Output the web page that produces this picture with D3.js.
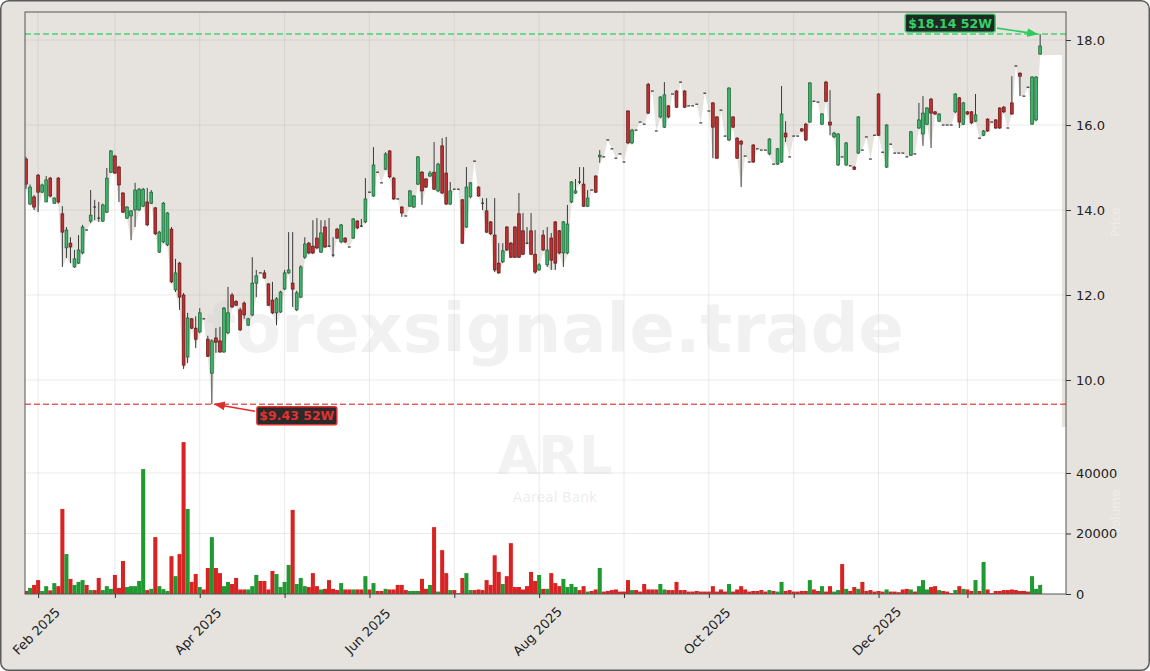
<!DOCTYPE html>
<html><head><meta charset="utf-8">
<script src="https://cdn.jsdelivr.net/npm/d3@7"></script>
<style>
html,body{margin:0;padding:0;background:#fff;}
svg{display:block;font-family:"DejaVu Sans",sans-serif;}
</style></head><body>
<svg id="chart" width="1150" height="671"></svg>
<script>
// ---------- DATA ----------
const ohlc = [ // [open, high, low, close] per trading day
[15.20,15.25,14.50,14.61],[14.14,14.60,14.12,14.54],[14.31,14.35,14.00,14.07],[14.82,14.85,13.95,14.42],[14.42,14.62,14.40,14.59],
[14.19,14.80,14.19,14.71],[14.75,14.78,14.30,14.33],[14.16,14.30,14.14,14.28],[14.75,14.78,14.15,14.19],[13.91,14.09,12.66,13.48],
[13.11,13.60,12.87,13.53],[13.22,13.36,12.75,13.13],[12.66,13.06,12.64,12.85],[12.75,13.41,12.73,13.06],[12.99,13.65,12.96,13.60],
[13.53,13.53,13.53,13.53],[13.74,14.47,13.69,13.88],[14.07,14.24,13.76,14.07],[13.81,14.19,13.72,13.81],[13.74,14.15,13.72,14.12],
[13.95,14.99,13.93,14.75],[14.89,15.41,14.87,15.39],[15.27,15.30,14.85,14.87],[15.01,15.04,14.19,14.59],[14.40,14.42,13.93,13.95],
[13.81,14.09,13.79,14.07],[13.86,14.00,13.29,13.98],[14.00,14.64,13.60,14.47],[14.00,14.52,13.98,14.49],[14.09,14.52,14.07,14.49],
[14.19,14.52,13.62,13.65],[14.16,14.47,14.14,14.42],[14.05,14.07,13.41,13.44],[13.01,13.51,12.99,13.48],[13.25,14.19,13.22,14.16],
[13.18,13.95,13.15,13.93],[13.55,13.60,12.28,12.31],[12.12,12.85,12.07,12.52],[12.75,12.78,11.65,11.95],[12.00,12.05,10.26,10.35],
[10.54,11.58,10.40,11.46],[11.44,11.46,11.20,11.22],[11.22,11.50,10.75,10.96],[11.13,11.69,11.10,11.58],[11.44,11.44,11.44,11.44],
[10.96,11.04,10.54,10.56],[10.16,10.96,9.43,10.92],[10.99,11.22,10.64,10.89],[10.92,11.25,10.64,10.66],[10.66,11.72,10.64,11.69],
[11.11,12.19,11.08,11.58],[12.00,12.05,11.69,11.72],[11.85,11.88,11.74,11.76],[11.65,11.70,11.15,11.18],[11.81,11.85,11.44,11.53],
[11.29,11.46,11.27,11.44],[11.53,12.89,11.50,12.28],[12.28,12.59,11.95,12.45],[12.52,12.52,12.52,12.52],[12.52,12.59,12.38,12.40],
[12.26,12.28,11.74,11.76],[11.88,12.31,11.55,11.58],[11.58,11.95,11.29,11.91],[11.60,12.10,11.58,12.07],[12.14,12.59,12.12,12.52],
[12.52,13.48,12.50,12.59],[12.28,13.48,11.72,12.14],[11.65,12.10,11.62,12.05],
[11.95,12.70,11.93,12.66],[12.89,13.36,12.85,13.20],[13.22,13.25,12.96,12.99],[13.15,13.76,12.96,12.99],[13.34,13.81,13.08,13.11],
[13.01,13.76,12.99,13.46],[13.60,13.76,13.11,13.13],[13.15,13.81,13.13,13.15],[12.94,13.36,12.89,12.94],[13.55,13.58,13.32,13.34],
[13.25,13.67,13.22,13.65],[13.34,13.36,13.22,13.25],[13.13,13.13,13.13,13.13],[13.34,13.81,13.32,13.79],[13.74,13.76,13.55,13.58],
[13.62,13.79,13.60,13.62],[13.72,14.75,13.69,14.26],[14.42,14.42,14.42,14.42],[14.33,15.48,14.31,15.06],[14.89,14.89,14.89,14.89],
[14.64,14.64,14.64,14.64],[14.96,15.36,14.94,15.32],[15.39,15.41,14.75,14.78],[14.75,14.78,14.24,14.26],[14.26,14.26,14.26,14.26],
[14.07,14.09,13.84,13.93],[13.86,13.86,13.86,13.86],[14.09,14.47,14.07,14.45],[14.07,14.35,14.05,14.33],[14.61,15.27,14.59,15.25],
[14.89,14.92,14.12,14.45],[14.73,14.75,14.52,14.54],[14.80,14.92,14.78,14.87],[14.89,15.60,14.47,14.49],[14.45,15.11,14.42,15.08],
[15.51,15.69,14.38,14.40],[14.87,15.72,14.12,14.14],[14.14,14.66,14.12,14.45],[14.49,14.49,14.49,14.49],[14.49,14.49,14.49,14.49],
[14.24,14.26,13.20,13.22],[13.60,15.01,13.58,14.54],[14.31,14.66,14.28,14.64],[15.15,15.15,15.15,15.15],[14.54,14.56,14.31,14.33],
[14.16,14.28,14.00,14.16],[13.98,14.28,13.46,13.48],[13.72,13.74,13.41,13.44],[13.41,14.28,12.54,12.59],[12.75,13.22,12.50,12.52],
[12.78,13.22,12.75,13.04],[13.60,13.62,13.04,13.06],[13.22,13.25,12.87,12.89],[13.60,13.62,12.87,12.89],[13.91,14.40,12.87,12.89],
[13.51,13.93,12.94,12.96],[13.22,13.60,13.20,13.22],[13.51,13.93,12.94,12.96],[12.96,13.53,12.50,12.54],[12.59,12.75,12.57,12.71],
[13.41,13.53,13.04,13.06],[12.71,13.60,12.66,13.06],[13.34,13.46,12.59,12.82],[13.72,13.74,12.59,12.75],[13.51,13.53,12.96,12.99],
[12.99,13.74,12.66,13.72],[12.99,14.12,12.96,13.67],[14.19,14.68,14.16,14.66],[14.40,14.73,14.38,14.45],[14.66,15.01,14.61,14.66],
[14.61,15.01,14.07,14.09],[14.09,14.47,14.07,14.28],[14.47,14.47,14.47,14.47],[14.80,14.82,14.40,14.42],[15.25,15.41,15.11,15.29],
[15.25,15.25,15.25,15.25],[15.65,15.65,15.65,15.65],[15.44,15.44,15.44,15.44],[15.22,15.22,15.22,15.22],[15.32,15.32,15.32,15.32],
[15.13,15.13,15.13,15.13],[16.33,16.35,15.55,15.58],[15.58,15.91,15.55,15.88],[15.88,15.88,15.88,15.88],[16.07,16.07,16.07,16.07],
[16.02,16.02,16.02,16.02],
[16.96,16.99,16.26,16.28],[16.80,16.80,16.80,16.80],[15.86,15.86,15.86,15.86],[16.19,16.68,16.16,16.66],[15.95,17.01,15.93,16.71],
[16.45,16.47,16.16,16.19],[16.73,16.73,16.73,16.73],[16.80,16.82,16.40,16.42],[17.01,17.01,17.01,17.01],[16.80,16.82,16.40,16.42],
[16.45,16.45,16.45,16.45],[16.45,16.45,16.45,16.45],[16.49,16.49,16.49,16.49],[16.05,16.05,16.05,16.05],[16.75,16.75,16.75,16.75],
[16.33,16.33,16.33,16.33],[16.52,16.54,15.22,15.95],[16.19,16.21,15.20,15.22],[16.35,16.35,16.35,16.35],[15.74,15.74,15.74,15.74],
[15.65,16.89,15.62,16.87],[16.19,16.21,15.93,15.95],[15.69,15.72,15.20,15.22],[15.62,15.65,14.54,15.55],[15.27,15.27,15.27,15.27],
[15.13,15.13,15.13,15.13],[15.53,15.55,15.11,15.13],[15.44,15.44,15.44,15.44],[15.41,15.41,15.41,15.41],[15.41,15.41,15.41,15.41],
[15.32,15.69,15.29,15.67],[15.08,15.08,15.08,15.08],[15.08,15.46,15.06,15.44],[15.13,16.92,15.11,16.26],[15.81,16.09,15.60,15.72],
[15.25,15.25,15.25,15.25],[15.74,15.74,15.74,15.74],[15.74,15.74,15.74,15.74],[15.91,15.93,15.84,15.86],[16.02,16.05,15.62,15.65],
[16.07,17.01,16.05,16.99],[16.56,16.56,16.56,16.56],[16.54,16.54,16.54,16.54],[16.02,16.28,16.00,16.26],[17.01,17.04,16.54,16.56],
[16.07,16.82,15.76,16.00],[15.72,15.84,15.69,15.81],[15.06,15.81,15.04,15.79],[15.25,15.25,15.25,15.25],[15.06,15.60,15.04,15.58],
[15.04,15.04,15.04,15.04],[15.01,15.04,14.94,14.96],[15.34,16.21,15.32,16.19],[15.41,15.41,15.41,15.41],[15.72,15.72,15.72,15.72],
[15.20,15.20,15.20,15.20],[15.76,15.76,15.76,15.76],[16.73,16.75,15.74,15.76],[15.36,15.36,15.36,15.36],[15.01,16.02,14.99,16.00],
[15.55,15.55,15.55,15.55],[15.34,15.34,15.34,15.34],[15.34,15.34,15.34,15.34],[15.34,15.34,15.34,15.34],[15.25,15.25,15.25,15.25],
[15.29,15.86,15.27,15.84],[15.32,15.32,15.32,15.32],[15.93,16.52,15.91,16.12],[15.79,16.68,15.51,16.28],[16.02,16.42,16.00,16.40],
[16.61,16.64,15.46,16.28],[16.31,16.33,16.24,16.26],[16.09,16.28,16.07,16.26],[16.00,16.00,16.00,16.00],[16.00,16.00,16.00,16.00],
[16.00,16.00,16.00,16.00],[16.31,16.75,16.28,16.73],[16.64,16.66,15.93,16.07],[16.02,16.54,16.00,16.52],[16.31,16.33,16.24,16.26],
[16.31,16.33,16.02,16.05],[16.09,16.73,16.07,16.24],[15.69,15.69,15.69,15.69],[15.76,15.88,15.74,15.86],[16.14,16.16,15.84,15.86],
[16.07,16.07,16.07,16.07],[16.12,16.14,15.91,15.93],[16.40,16.42,15.91,15.93],[16.42,16.45,16.28,16.31],[15.93,15.93,15.93,15.93],
[16.52,17.15,16.24,16.26],[17.39,17.39,17.39,17.39],[17.22,17.24,16.68,17.15],[16.68,16.68,16.68,16.68],[16.89,16.89,16.89,16.89],
[16.02,17.15,16.00,17.13],[16.12,17.15,16.09,17.13],[17.67,18.14,17.65,17.86]
];
const volume = [
1000,2000,3000,4600,1000,2600,1200,3600,2600,28100,
13200,5000,3000,4000,4600,3000,1300,1300,5300,1300,
2600,1700,6300,2000,10900,2300,2600,2600,4300,41300,
1300,1700,18800,2600,1600,1000,12500,5900,13200,50200,
28100,4000,6600,2300,1500,8600,18800,8600,6900,2600,
4000,3300,5300,1500,1500,1500,2600,6300,4300,4300,
1500,7600,6600,2300,4000,9600,27800,3300,5300,2600,
2300,6900,2600,1500,1700,4600,1700,1300,3600,1500,
1500,1500,1500,1500,5900,1500,3600,1000,1000,1700,
1500,1500,3000,
3000,1300,1000,1000,1000,5000,1700,3000,22100,800,
14500,6900,1300,1300,300,5300,6900,1300,1300,1500,
1300,4600,3000,12800,7300,3300,5900,16800,2300,2300,
1500,2600,7300,4300,6300,1700,1700,6900,3600,2600,
5000,2300,3300,2300,1300,2600,800,1000,1500,8600,
800,1000,1300,1500,800,800,4600,1300,1300,800,
3300,1500,1500,1500,3300,1500,1300,1300,4000,1300,
1300,800,800,1000,800,800,800,2600,800,1500,
800,3300,800,1500,2600,1500,800,1000,1000,1300,
800,1300,1000,800,
4000,1000,1300,800,800,1000,1000,4600,1500,1000,
2600,800,2600,800,1300,9900,1700,1000,2300,1700,
4000,1000,1300,800,1000,800,1500,800,800,600,
1500,1700,1500,800,2600,4600,1500,2300,2600,1300,
1000,800,300,1300,2600,1700,1500,1000,4600,1000,
10600,1500,300,1000,1000,1300,1300,1500,1300,1000,
1000,800,5900,1700,3000
];
const monthTickIndex = [3,22,43,64,85,106,127,148,169,190,211,233];
const monthTickLabels = ["Feb 2025","","Apr 2025","","Jun 2025","","Aug 2025","","Oct 2025","","Dec 2025",""];
const priceTicks = [10,12,14,16,18];
const volumeTicks = [0,20000,40000];
const high52 = 18.14, low52 = 9.43;
const high52Label = "$18.14 52W", low52Label = "$9.43 52W";
const symbolText = "ARL", companyText = "Aareal Bank", watermarkText = "forexsignale.trade";

// ---------- LAYOUT ----------
const L = 25, R = 1066, T = 12, PB = 427, VB = 594;
const svg = d3.select("#chart");
const x = d3.scaleLinear().domain([-0.25, 257.4]).range([L, R]);
const y = d3.scaleLinear().domain([8.894, 18.66]).range([PB, T]);
const yv = d3.scaleLinear().domain([0, 55200]).range([VB, PB]);
const step = x(1) - x(0);

// figure background
svg.append("rect").attr("x",0.75).attr("y",0.75).attr("width",1148.5).attr("height",669.5)
  .attr("rx",8).attr("fill","#e6e3de").attr("stroke","#5a5a5a").attr("stroke-width",1.5);

const defs = svg.append("defs");
defs.append("clipPath").attr("id","plotclip").append("rect")
  .attr("x",L).attr("y",T).attr("width",R-L).attr("height",VB-T);

const g = svg.append("g").attr("clip-path","url(#plotclip)");
g.append("rect").attr("x",L).attr("y",T).attr("width",R-L).attr("height",PB-T).attr("fill","#e6e3de");

// white area under the lows
const lowPts = ohlc.map((d,i)=>[i,d[2]]);
const ext = [[-0.25, ohlc[0][2]], ...lowPts, [ohlc.length-1+5.4, ohlc[ohlc.length-1][2]]];
g.append("path").datum(ext)
  .attr("d", d3.area().x(d=>x(d[0])).y0(PB).y1(d=>y(d[1])))
  .attr("fill","#ffffff");
g.append("rect").attr("x",L).attr("y",PB).attr("width",R-L).attr("height",VB-PB).attr("fill","#ffffff");

// grid
const grid = g.append("g").attr("stroke","#9a9a9a").attr("stroke-opacity",0.25).attr("stroke-width",0.8);
monthTickIndex.forEach(t=>grid.append("line").attr("x1",x(t)).attr("x2",x(t)).attr("y1",T).attr("y2",VB));
priceTicks.forEach(p=>grid.append("line").attr("x1",L).attr("x2",R).attr("y1",y(p)).attr("y2",y(p)));
volumeTicks.filter(v=>v>0).forEach(v=>grid.append("line").attr("x1",L).attr("x2",R).attr("y1",yv(v)).attr("y2",yv(v)));

// watermarks
g.append("text").attr("x",555).attr("y",352).attr("text-anchor","middle")
  .attr("font-size",67).attr("font-weight","bold").attr("fill","#cfcfcf").attr("fill-opacity",0.3)
  .text(watermarkText);
g.append("text").attr("x",555).attr("y",474).attr("text-anchor","middle")
  .attr("font-size",53).attr("font-weight","bold").attr("fill","#cfcfcf").attr("fill-opacity",0.28)
  .text(symbolText);
g.append("text").attr("x",555).attr("y",502).attr("text-anchor","middle")
  .attr("font-size",14).attr("fill","#cfcfcf").attr("fill-opacity",0.4)
  .text(companyText);

// 52w lines
g.append("line").attr("x1",L).attr("x2",R).attr("y1",y(high52)).attr("y2",y(high52))
  .attr("stroke","#2ecc5f").attr("stroke-opacity",0.85).attr("stroke-width",1.5).attr("stroke-dasharray","6,3");
g.append("line").attr("x1",L).attr("x2",R).attr("y1",y(low52)).attr("y2",y(low52))
  .attr("stroke","#dd3a3a").attr("stroke-opacity",0.8).attr("stroke-width",1.5).attr("stroke-dasharray","6,3");

// volume bars
const isUp = d => d[3] > d[0];
g.append("g").selectAll("rect").data(volume).join("rect")
  .attr("x",(v,i)=>x(i)-step/2).attr("width",step)
  .attr("y",v=>yv(v)).attr("height",v=>VB-yv(v))
  .attr("fill",(v,i)=>isUp(ohlc[i]) ? "#1f9a31" : "#d92222");

// candles
const bw = 2.8;
const cg = g.append("g");
ohlc.forEach((d,i)=>{
  const [o,h,l,c] = d;
  const cx = x(i);
  cg.append("line").attr("x1",cx).attr("x2",cx).attr("y1",y(h)).attr("y2",y(l))
    .attr("stroke","#3a3a3a").attr("stroke-width",1);
  if (o === c) {
    cg.append("rect").attr("x",cx-bw/2).attr("y",y(o)-0.6).attr("width",bw).attr("height",1.2).attr("fill","#333");
  } else {
    const up = c > o;
    const top = y(Math.max(o,c)), bot = y(Math.min(o,c));
    cg.append("rect").attr("x",cx-bw/2).attr("y",top).attr("width",bw).attr("height",Math.max(1,bot-top))
      .attr("fill", up ? "#3cb46a" : "#bf2f2f")
      .attr("stroke", up ? "#1b5e33" : "#5e1616").attr("stroke-width",0.7);
  }
});

// annotations
function arrowHead(id,color){
  defs.append("marker").attr("id",id).attr("viewBox","0 0 10 10").attr("refX",9).attr("refY",5)
    .attr("markerWidth",7).attr("markerHeight",7).attr("orient","auto-start-reverse")
    .append("path").attr("d","M0,1 L10,5 L0,9 z").attr("fill",color);
}
arrowHead("ag","#2ecc5f"); arrowHead("ar","#dd2e2e");

const hiIdx = ohlc.findIndex(d=>d[1]===high52);
const loIdx = ohlc.findIndex(d=>d[2]===low52);
const hp = [x(hiIdx), y(high52)], lp = [x(loIdx), y(low52)];

function label(cx, cy, w, text, fg, bg){
  svg.append("rect").attr("x",cx-w/2).attr("y",cy-9).attr("width",w).attr("height",18).attr("rx",2)
    .attr("fill",bg).attr("stroke",fg).attr("stroke-width",1.4);
  svg.append("text").attr("x",cx).attr("y",cy+4.5).attr("text-anchor","middle")
    .attr("font-size",12.5).attr("font-weight","bold").attr("fill",fg).text(text);
}
svg.append("line").attr("x1",hp[0]-43).attr("y1",hp[1]-6).attr("x2",hp[0]-3).attr("y2",hp[1])
  .attr("stroke","#2ecc5f").attr("stroke-width",1.6).attr("marker-end","url(#ag)");
label(hp[0]-90, hp[1]-11, 90, high52Label, "#35d06a", "#1e2a22");
svg.append("line").attr("x1",lp[0]+43).attr("y1",lp[1]+7).attr("x2",lp[0]+3).attr("y2",lp[1])
  .attr("stroke","#dd2e2e").attr("stroke-width",1.6).attr("marker-end","url(#ar)");
label(lp[0]+85, lp[1]+11.5, 80, low52Label, "#e03333", "#2c2929");

// spines
svg.append("rect").attr("x",L).attr("y",T).attr("width",R-L).attr("height",VB-T)
  .attr("fill","none").attr("stroke","#555").attr("stroke-width",1);

// right axes
const ax1 = svg.append("g").attr("transform",`translate(${R},0)`)
  .call(d3.axisRight(y).tickValues(priceTicks).tickFormat(d3.format(".1f")).tickSize(5).tickPadding(5));
const ax2 = svg.append("g").attr("transform",`translate(${R},0)`)
  .call(d3.axisRight(yv).tickValues(volumeTicks).tickFormat(d3.format("d")).tickSize(5).tickPadding(5));
[ax1,ax2].forEach(a=>{
  a.select(".domain").remove();
  a.selectAll("text").attr("font-size",13).attr("fill","#222").attr("font-family","DejaVu Sans, sans-serif");
  a.selectAll("line").attr("stroke","#333");
});

// bottom axis
const ax3 = svg.append("g").attr("transform",`translate(0,${VB})`)
  .call(d3.axisBottom(x).tickValues(monthTickIndex).tickFormat("").tickSize(4));
ax3.select(".domain").remove();
ax3.selectAll("line").attr("stroke","#333");
monthTickIndex.forEach((t,i)=>{
  if(!monthTickLabels[i]) return;
  svg.append("text").attr("transform",`translate(${x(t)-1},${632}) rotate(-45)`)
    .attr("text-anchor","middle").attr("dominant-baseline","middle")
    .attr("font-size",13).attr("fill","#222").text(monthTickLabels[i]);
});

// faint axis titles
svg.append("text").attr("transform","translate(1120,222) rotate(-90)").attr("text-anchor","middle")
  .attr("font-size",12).attr("fill","#fff").attr("fill-opacity",0.35).text("Price");
svg.append("text").attr("transform","translate(1120,512) rotate(-90)").attr("text-anchor","middle")
  .attr("font-size",12).attr("fill","#fff").attr("fill-opacity",0.35).text("Volume");
</script>
</body></html>
